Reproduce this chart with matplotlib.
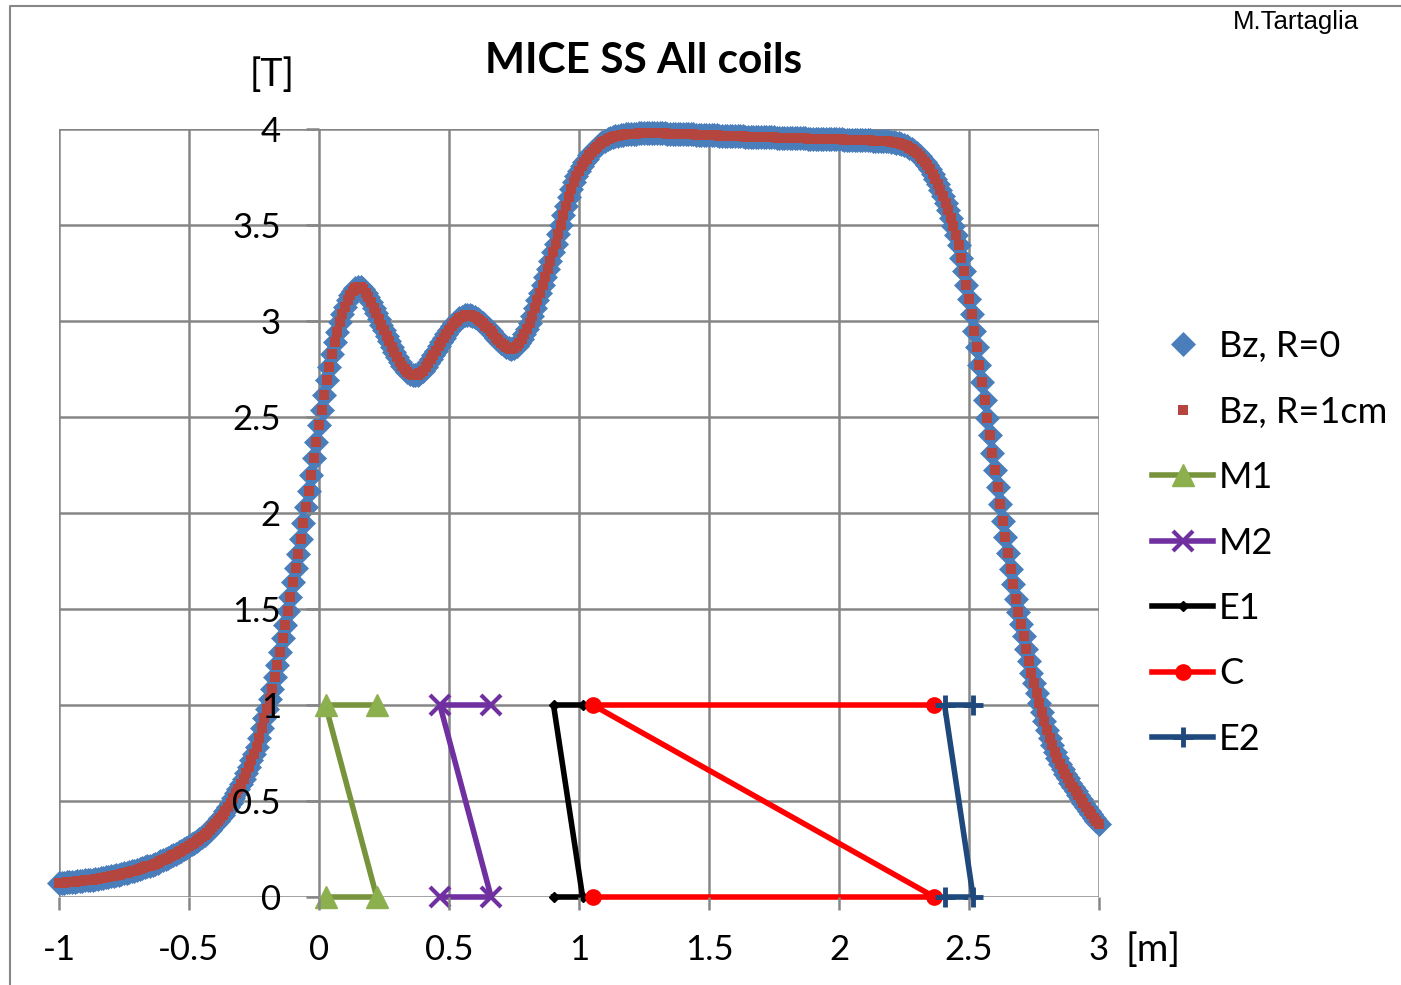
import numpy as np
import matplotlib
matplotlib.use('Agg')
import matplotlib.pyplot as plt
from matplotlib.lines import Line2D
from matplotlib.ticker import FuncFormatter

plt.rcParams['font.family'] = ['Lato', 'DejaVu Sans']
plt.rcParams['axes.unicode_minus'] = False

# z along the axis [m], field map sampled every 1 cm
Z = np.round(np.arange(-100, 301) / 100.0, 2)

# Bz on axis [T], one row per 10 cm starting at z=-1.00
BZ_R0 = [
    0.073, 0.074, 0.075, 0.076, 0.077, 0.078, 0.080, 0.081, 0.083, 0.084,
    0.086, 0.087, 0.089, 0.091, 0.094, 0.096, 0.098, 0.101, 0.103, 0.106,
    0.108, 0.111, 0.114, 0.117, 0.120, 0.123, 0.127, 0.130, 0.134, 0.138,
    0.142, 0.146, 0.150, 0.155, 0.159, 0.164, 0.169, 0.174, 0.179, 0.185,
    0.191, 0.197, 0.204, 0.211, 0.218, 0.225, 0.233, 0.241, 0.249, 0.257,
    0.265, 0.274, 0.283, 0.293, 0.303, 0.313, 0.323, 0.334, 0.348, 0.363,
    0.378, 0.394, 0.410, 0.427, 0.448, 0.469, 0.492, 0.515, 0.540, 0.565,
    0.590, 0.617, 0.644, 0.677, 0.711, 0.746, 0.782, 0.830, 0.880, 0.930,
    0.980, 1.030, 1.083, 1.145, 1.210, 1.278, 1.347, 1.418, 1.490, 1.564,
    1.639, 1.716, 1.785, 1.866, 1.947, 2.030, 2.115, 2.200, 2.286, 2.372,
    2.456, 2.538, 2.617, 2.692, 2.763, 2.829, 2.890, 2.945, 2.995, 3.037,
    3.075, 3.107, 3.134, 3.155, 3.170, 3.178, 3.177, 3.168, 3.148, 3.125,
    3.098, 3.070, 3.041, 3.011, 2.981, 2.952, 2.923, 2.894, 2.864, 2.836,
    2.810, 2.787, 2.767, 2.750, 2.735, 2.725, 2.719, 2.718, 2.721, 2.729,
    2.742, 2.759, 2.779, 2.801, 2.823, 2.846, 2.869, 2.892, 2.913, 2.934,
    2.953, 2.972, 2.988, 3.002, 3.014, 3.023, 3.029, 3.031, 3.030, 3.026,
    3.019, 3.010, 3.000, 2.987, 2.974, 2.961, 2.946, 2.930, 2.914, 2.899,
    2.885, 2.873, 2.864, 2.858, 2.856, 2.859, 2.868, 2.886, 2.907, 2.930,
    2.956, 2.988, 3.025, 3.066, 3.107, 3.148, 3.189, 3.230, 3.272, 3.314,
    3.357, 3.403, 3.452, 3.502, 3.552, 3.600, 3.645, 3.686, 3.722, 3.753,
    3.780, 3.805, 3.827, 3.846, 3.863, 3.880, 3.895, 3.908, 3.920, 3.930,
    3.939, 3.946, 3.952, 3.957, 3.962, 3.966, 3.969, 3.971, 3.973, 3.974,
    3.975, 3.976, 3.976, 3.977, 3.977, 3.977, 3.977, 3.977, 3.977, 3.977,
    3.977, 3.977, 3.977, 3.977, 3.976, 3.976, 3.976, 3.975, 3.975, 3.974,
    3.974, 3.973, 3.973, 3.972, 3.972, 3.971, 3.971, 3.970, 3.970, 3.969,
    3.969, 3.968, 3.968, 3.967, 3.966, 3.966, 3.965, 3.965, 3.964, 3.963,
    3.963, 3.962, 3.962, 3.961, 3.960, 3.960, 3.960, 3.959, 3.959, 3.958,
    3.958, 3.958, 3.957, 3.957, 3.956, 3.956, 3.955, 3.955, 3.955, 3.954,
    3.954, 3.953, 3.953, 3.953, 3.952, 3.952, 3.951, 3.951, 3.950, 3.950,
    3.950, 3.949, 3.949, 3.949, 3.948, 3.948, 3.947, 3.947, 3.947, 3.946,
    3.946, 3.946, 3.945, 3.945, 3.944, 3.944, 3.944, 3.943, 3.943, 3.942,
    3.942, 3.941, 3.941, 3.940, 3.940, 3.939, 3.939, 3.938, 3.937, 3.936,
    3.934, 3.932, 3.929, 3.925, 3.921, 3.916, 3.910, 3.903, 3.895, 3.885,
    3.873, 3.860, 3.845, 3.829, 3.810, 3.790, 3.767, 3.742, 3.714, 3.684,
    3.651, 3.615, 3.578, 3.538, 3.495, 3.448, 3.395, 3.330, 3.262, 3.190,
    3.115, 3.035, 2.950, 2.862, 2.772, 2.680, 2.588, 2.496, 2.404, 2.312,
    2.222, 2.133, 2.046, 1.960, 1.875, 1.790, 1.707, 1.628, 1.553, 1.482,
    1.421, 1.358, 1.290, 1.227, 1.168, 1.112, 1.060, 1.011, 0.965, 0.918,
    0.872, 0.830, 0.790, 0.754, 0.722, 0.694, 0.668, 0.643, 0.619, 0.596,
    0.574, 0.553, 0.532, 0.511, 0.490, 0.470, 0.450, 0.431, 0.413, 0.396,
    0.380,
]
# R=1cm curve lies on top of the R=0 one to within a pixel
BZ_R1CM = list(BZ_R0)

# coil extents [m]; each coil drawn as a Z shape between level 0 and 1
COIL_NAMES = ['M1', 'M2', 'E1', 'C', 'E2']
COIL_Z1 = [0.025, 0.465, 0.902, 1.053, 2.406]
COIL_Z2 = [0.222, 0.662, 1.014, 2.367, 2.516]
COIL_LEVELS = [0, 0, 1, 1]

X_TICKS = [-1, -0.5, 0, 0.5, 1, 1.5, 2, 2.5, 3]
Y_TICKS = [0, 0.5, 1, 1.5, 2, 2.5, 3, 3.5, 4]

coil_styles = {
    'M1': dict(color='#77933C', marker='^', ms=16, mfc='#8DB04F', mec='#8DB04F', mew=1),
    'M2': dict(color='#7030A0', marker='x', ms=15, mec='#7030A0', mew=3),
    'E1': dict(color='black', marker='D', ms=5.5, mfc='black', mec='black'),
    'C': dict(color='#FF0000', marker='o', ms=11, mfc='#FF0000', mec='#FF0000'),
    'E2': dict(color='#1F497D', marker='+', ms=15, mec='#1F497D', mew=3.5),
}

GRID = '#868686'

fig = plt.figure(figsize=(14.01, 9.85), dpi=100)
ax = fig.add_axes([59 / 1401, 1 - 897 / 985, 1040 / 1401, 768 / 985])
ax.set_xlim(-1, 3)
ax.set_ylim(0, 4)

# grid drawn by hand so it stays under the curves while tick labels stay on top
for xv in X_TICKS:
    ax.axvline(xv, color=GRID, lw=1.8, zorder=1)
for yv in Y_TICKS:
    ax.axhline(yv, color=GRID, lw=1.8, zorder=1)

ax.plot(Z, BZ_R0, ls='none', marker='D', ms=12.5, mfc='#4A7EBB', mec='#4A7EBB',
        mew=0.5, label='Bz, R=0', clip_on=False, zorder=2)
ax.plot(Z, BZ_R1CM, ls='none', marker='s', ms=6.5, mfc='#B5453F', mec='#B5453F',
        mew=0, label='Bz, R=1cm', clip_on=False, zorder=2.05)

for name, z1, z2 in zip(COIL_NAMES, COIL_Z1, COIL_Z2):
    ax.plot([z1, z2, z1, z2], COIL_LEVELS, lw=4, label=name, clip_on=False,
            zorder=2.1, **coil_styles[name])

ax.set_axisbelow(False)
for side in ['top', 'right', 'bottom', 'left']:
    ax.spines[side].set_visible(False)
ax.spines['left'].set_position(('data', 0))

fmt = FuncFormatter(lambda v, p: '%g' % v)
ax.set_xticks(X_TICKS)
ax.set_yticks(Y_TICKS)
ax.xaxis.set_major_formatter(fmt)
ax.yaxis.set_major_formatter(fmt)
ax.tick_params(axis='both', direction='out', length=9.4, width=1.8, color=GRID,
               labelsize=25, labelcolor='black')
ax.tick_params(axis='x', pad=17)
ax.tick_params(axis='y', pad=18)

fig.text(644 / 1401, 1 - 73 / 985, 'MICE SS All coils', ha='center', va='baseline',
         fontsize=30.5, fontweight='bold')
fig.text(272 / 1401, 1 - 75 / 985, '[T]', ha='center', va='center', fontsize=27)
fig.text(1153 / 1401, 1 - 950 / 985, '[m]', ha='center', va='center', fontsize=27.5)
fig.text(1296 / 1401, 1 - 22 / 985, 'M.Tartaglia', ha='center', va='center',
         fontsize=18.5, family=['Liberation Sans Narrow', 'Liberation Sans', 'DejaVu Sans'])

leg = ax.legend(loc='upper left', bbox_to_anchor=(1152 / 1401, 1 - 330 / 985),
                bbox_transform=fig.transFigure, frameon=False, fontsize=26,
                borderpad=0, borderaxespad=0, handlelength=1.7, handletextpad=0.15,
                labelspacing=0.90)

# chart frame, only its left and top edges fall inside the picture
fig.add_artist(Line2D([10 / 1401, 10 / 1401, 1.0], [0.0, 1 - 6 / 985, 1 - 6 / 985],
                      transform=fig.transFigure, color=GRID, lw=1.5))

fig.savefig('out.png', dpi=100)
